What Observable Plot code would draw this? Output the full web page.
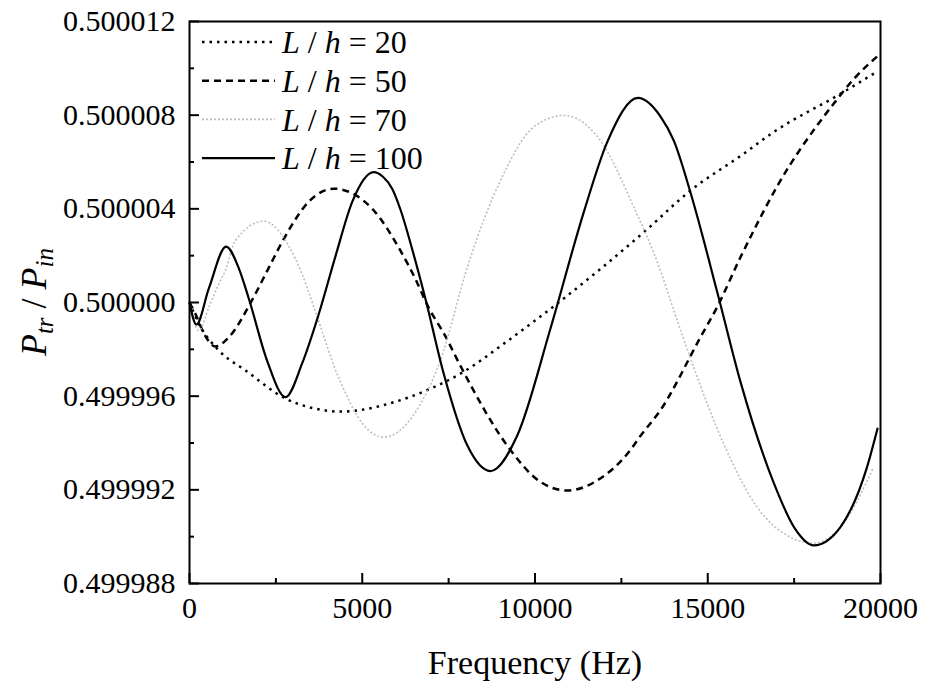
<!DOCTYPE html>
<html><head><meta charset="utf-8">
<script src="https://cdn.jsdelivr.net/npm/d3@7"></script>
<script src="https://cdn.jsdelivr.net/npm/@observablehq/plot@0.6"></script>
<style>html,body{margin:0;padding:0;background:#fff;}</style>
</head><body><div id="chart"></div>
<script>
// Frequency (Hz) and P_tr / P_in values
const freq20 = [0, 270, 850, 1620, 2780, 3940, 4400, 4850, 5910, 6980, 7840, 9200, 10640, 13150, 14500, 16040, 16900, 18840, 19900];
const ratio20 = [0.50000000, 0.49999910, 0.49999795, 0.49999710, 0.49999590, 0.49999539, 0.49999534, 0.49999539, 0.49999574, 0.49999632, 0.49999696, 0.49999835, 0.49999995, 0.50000300, 0.50000478, 0.50000635, 0.50000727, 0.50000891, 0.50000986];

const freq50 = [0, 170, 410, 750, 1140, 1810, 2300, 2780, 3450, 4180, 5290, 6110, 6540, 6880, 7410, 7840, 9290, 10100, 10930, 11800, 12760, 13050, 13630, 14790, 15270, 15950, 17390, 17680, 18650, 19230, 19900];
const ratio50 = [0.50000000, 0.49999952, 0.49999870, 0.49999812, 0.49999852, 0.50000010, 0.50000150, 0.50000285, 0.50000430, 0.50000486, 0.50000400, 0.50000220, 0.50000100, 0.49999990, 0.49999855, 0.49999730, 0.49999370, 0.49999240, 0.49999197, 0.49999240, 0.49999370, 0.49999430, 0.49999540, 0.49999852, 0.49999980, 0.50000194, 0.50000590, 0.50000655, 0.50000850, 0.50000955, 0.50001050];

const freq70 = [0, 270, 560, 850, 1040, 1330, 2150, 3070, 3740, 3990, 4180, 4560, 4760, 5620, 6690, 7260, 8040, 9000, 9960, 10830, 11890, 12860, 13630, 13970, 14590, 15460, 16430, 17390, 18070, 18840, 19800];
const ratio70 = [0.50000000, 0.49999880, 0.49999980, 0.50000080, 0.50000137, 0.50000265, 0.50000347, 0.50000185, 0.49999920, 0.49999810, 0.49999730, 0.49999600, 0.49999540, 0.49999425, 0.49999568, 0.49999752, 0.50000151, 0.50000521, 0.50000749, 0.50000799, 0.50000692, 0.50000407, 0.50000137, 0.49999987, 0.49999724, 0.49999397, 0.49999126, 0.49998998, 0.49998972, 0.49999041, 0.49999297];

const freq100 = [0, 200, 560, 1060, 1430, 1720, 2250, 2780, 3260, 3740, 4220, 4710, 5330, 5600, 5870, 6110, 6450, 6830, 7360, 8040, 8710, 9480, 10450, 11410, 12090, 12980, 13630, 14020, 14500, 15300, 15950, 16910, 17500, 18070, 18840, 19610, 19920];
const ratio100 = [0.50000000, 0.49999906, 0.50000060, 0.50000239, 0.50000145, 0.50000015, 0.49999750, 0.49999596, 0.49999740, 0.49999950, 0.50000195, 0.50000430, 0.50000557, 0.50000537, 0.50000485, 0.50000395, 0.50000225, 0.50000015, 0.49999695, 0.49999390, 0.49999280, 0.49999430, 0.49999890, 0.50000385, 0.50000685, 0.50000874, 0.50000795, 0.50000690, 0.50000470, 0.50000030, 0.49999660, 0.49999230, 0.49999040, 0.49998963, 0.49999041, 0.49999297, 0.49999465];

const seriesLabels = ["20", "50", "70", "100"];
const xTicks = [0, 5000, 10000, 15000, 20000];
const xMinorTicks = [2500, 7500, 12500, 17500];
const yTicks = [0.499988, 0.499992, 0.499996, 0.500000, 0.500004, 0.500008, 0.500012];
const yMinorTicks = [0.499990, 0.499994, 0.499998, 0.500002, 0.500006, 0.500010];

const styles = [
  {stroke: "#000", width: 2.5, dash: "2.5,5"},
  {stroke: "#000", width: 2.5, dash: "7,5"},
  {stroke: "#bdbdbd", width: 1.6, dash: "2,2"},
  {stroke: "#000", width: 2.2, dash: null}
];
const freqs = [freq20, freq50, freq70, freq100];
const ratios = [ratio20, ratio50, ratio70, ratio100];

const W = 926, H = 690, mL = 189, mR = 46, mT = 21, mB = 107;
const innerW = W - mL - mR, innerH = H - mT - mB;
const FONT = "'Liberation Serif', 'Times New Roman', serif";

const tables = seriesLabels.map((name, k) => freqs[k].map((f, i) => ({series: name, f, r: ratios[k][i]})));

const svg = Plot.plot({
  width: W, height: H,
  marginLeft: mL, marginRight: mR, marginTop: mT, marginBottom: mB,
  style: {fontFamily: FONT, fontSize: "30px", background: "white", color: "black"},
  x: {domain: [0, 20000]},
  y: {domain: [0.499988, 0.500012]},
  marks: [
    ...tables.map((t, k) => Plot.line(t, {
      x: "f", y: "r", stroke: styles[k].stroke, strokeWidth: styles[k].width,
      strokeDasharray: styles[k].dash, curve: "monotone-x", strokeLinecap: "butt"
    })),
    Plot.tickX(xTicks, {x: d => d, insetTop: innerH - 10, strokeWidth: 2, stroke: "black"}),
    Plot.tickX(xMinorTicks, {x: d => d, insetTop: innerH - 5, strokeWidth: 2, stroke: "black"}),
    Plot.tickY(yTicks, {y: d => d, insetRight: innerW - 10, strokeWidth: 2, stroke: "black"}),
    Plot.tickY(yMinorTicks, {y: d => d, insetRight: innerW - 5, strokeWidth: 2, stroke: "black"}),
    Plot.axisX({ticks: xTicks, tickSize: 0, tickPadding: 13, tickFormat: d => String(d), label: null, fontSize: 30}),
    Plot.axisY({ticks: yTicks, tickSize: 0, tickPadding: 14, tickFormat: d3.format(".6f"), label: null, fontSize: 30}),
    Plot.text(["Frequency (Hz)"], {frameAnchor: "bottom", lineAnchor: "middle", dy: 80, text: d => d, fontSize: 34}),
    Plot.frame({stroke: "black", strokeWidth: 2})
  ]
});

const g = d3.select(svg);
// y-axis title with subscripts
const yl = g.append("text")
  .attr("transform", `translate(46,${mT + innerH / 2}) rotate(-90)`)
  .attr("text-anchor", "middle")
  .attr("font-size", 36)
  .attr("fill", "black");
yl.append("tspan").attr("font-style", "italic").text("P");
yl.append("tspan").attr("font-style", "italic").attr("font-size", 25).attr("dy", 7).text("tr");
yl.append("tspan").attr("dy", -7).text(" / ");
yl.append("tspan").attr("font-style", "italic").text("P");
yl.append("tspan").attr("font-style", "italic").attr("font-size", 25).attr("dy", 7).text("in");

// legend inside plot area
const lg = g.append("g").attr("text-anchor", "start");
seriesLabels.forEach((name, k) => {
  const y = mT + 21 + k * 38.7;
  lg.append("line")
    .attr("x1", mL + 13).attr("x2", mL + 86).attr("y1", y).attr("y2", y)
    .attr("stroke", styles[k].stroke).attr("stroke-width", styles[k].width)
    .attr("stroke-dasharray", styles[k].dash);
  const t = lg.append("text").attr("x", mL + 93).attr("y", y).attr("dy", "0.35em")
    .attr("text-anchor", "start").attr("font-size", 32).attr("fill", "black");
  t.append("tspan").attr("font-style", "italic").text("L");
  t.append("tspan").text(" / ");
  t.append("tspan").attr("font-style", "italic").text("h");
  t.append("tspan").text(" = " + name);
});

g.selectAll("text").attr("font-family", FONT).style("font-family", FONT);
document.getElementById("chart").appendChild(svg);
</script>
</body></html>
